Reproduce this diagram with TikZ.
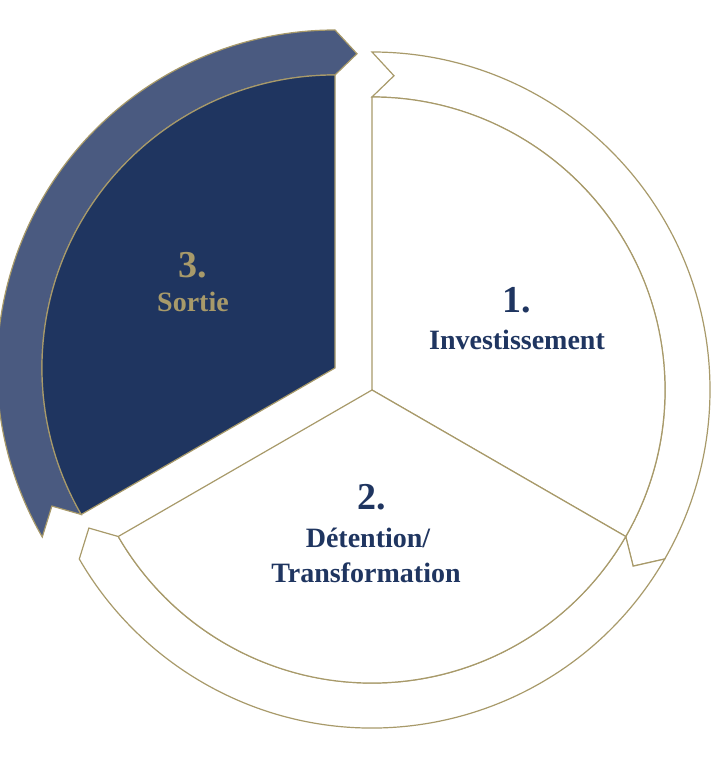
\documentclass[tikz,border=0pt]{standalone}
\usepackage{fontspec}
\setmainfont{Liberation Serif}
\usepackage{xcolor}
\definecolor{gold}{HTML}{A89A6A}
\definecolor{navy}{HTML}{1F3560}
\definecolor{slate}{HTML}{4A5A80}
\newcommand{\bandpath}[2]{(#1:338pt) arc[start angle=#1,end angle=#2,radius=338pt] -- (#2-4:315pt) -- (#2:293pt) arc[start angle=#2,end angle=#1,radius=293pt] -- (#1-4:315pt) -- cycle}
\begin{document}
\begin{tikzpicture}[x=1pt,y=1pt,band/.style={draw=gold,line width=1.2pt,fill=white},sector/.style={draw=gold,line width=1.2pt,fill=white},num/.style={font=\bfseries\fontsize{38}{42}\selectfont,text=navy},lbl/.style={font=\bfseries\fontsize{28}{32}\selectfont,text=navy}]
\useasboundingbox (0,0) rectangle (711,777);
\begin{scope}[shift={(372,387)}]
\draw[band] \bandpath{90}{-30};
\draw[band] \bandpath{-30}{-150};
\draw[sector] (0,0) -- (90:293pt) arc[start angle=90,end angle=-30,radius=293pt] -- cycle;
\draw[sector] (0,0) -- (-30:293pt) arc[start angle=-30,end angle=-150,radius=293pt] -- cycle;
\end{scope}
\begin{scope}[shift={(335,409)}]
\draw[band,fill=slate] \bandpath{210}{90};
\draw[sector,fill=navy] (0,0) -- (90:293pt) arc[start angle=90,end angle=210,radius=293pt] -- cycle;
\end{scope}
% labels
\node[num] (n1) at (517,477) {1.};
\node[lbl] (t1) at (517,437) {Investissement};
\node[num] (n2) at (372,280) {2.};
\node[lbl] (t2a) at (368,239) {Détention/};
\node[lbl] (t2b) at (366,204) {Transformation};
\node[num,text=gold] (n3) at (193,512) {3.};
\node[lbl,text=gold] (t3) at (193,475) {Sortie};
\end{tikzpicture}
\end{document}
